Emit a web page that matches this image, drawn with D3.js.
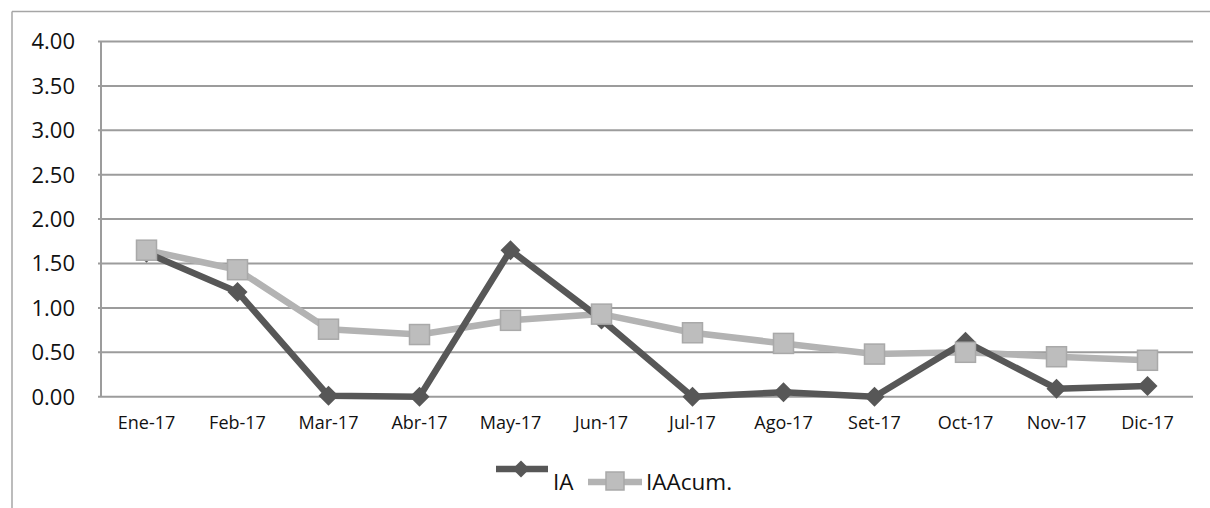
<!DOCTYPE html>
<html>
<head>
<meta charset="utf-8">
<script src="https://cdn.jsdelivr.net/npm/d3@7"></script>
<style>
  html, body { margin: 0; padding: 0; background: #fff; }
  svg { display: block; font-family: "Open Sans", sans-serif; }
</style>
</head>
<body>
<svg id="chart" width="1210" height="508"></svg>
<script>
const categories = ["Ene-17","Feb-17","Mar-17","Abr-17","May-17","Jun-17","Jul-17","Ago-17","Set-17","Oct-17","Nov-17","Dic-17"];
const iaValues = [1.62, 1.18, 0.01, 0.00, 1.65, 0.87, 0.00, 0.05, 0.00, 0.62, 0.09, 0.12];
const iaAcumValues = [1.65, 1.43, 0.76, 0.70, 0.86, 0.93, 0.72, 0.60, 0.48, 0.50, 0.45, 0.41];
const yTicks = [0, 0.5, 1, 1.5, 2, 2.5, 3, 3.5, 4];
const seriesNames = ["IA", "IAAcum."];

const svg = d3.select("#chart");
const plot = { left: 101, right: 1193, top: 41.5, bottom: 396.7 };

// outer frame (left and top edges visible)
svg.append("line").attr("x1", 12).attr("y1", 11.5).attr("x2", 1210).attr("y2", 11.5)
  .attr("stroke", "#a6a6a6").attr("stroke-width", 1.5);
svg.append("line").attr("x1", 12).attr("y1", 11.5).attr("x2", 12).attr("y2", 508)
  .attr("stroke", "#a6a6a6").attr("stroke-width", 1.5);

const x = d3.scaleBand().domain(categories).range([plot.left, plot.right]);
const y = d3.scaleLinear().domain([0, 4]).range([plot.bottom, plot.top]);

// gridlines
svg.append("g").selectAll("line").data(yTicks).join("line")
  .attr("x1", plot.left - 3).attr("x2", plot.right)
  .attr("y1", d => y(d)).attr("y2", d => y(d))
  .attr("stroke", "#9c9c9c").attr("stroke-width", 2);

// y axis line
svg.append("line").attr("x1", plot.left).attr("x2", plot.left)
  .attr("y1", plot.top).attr("y2", plot.bottom)
  .attr("stroke", "#9c9c9c").attr("stroke-width", 2);

// y labels
svg.append("g").selectAll("text").data(yTicks).join("text")
  .attr("x", 75).attr("y", d => y(d)).attr("dy", "0.36em")
  .attr("text-anchor", "end").attr("font-size", 22).attr("fill", "#111")
  .text(d => d.toFixed(2));

// x labels
svg.append("g").selectAll("text").data(categories).join("text")
  .attr("x", d => x(d) + x.bandwidth() / 2).attr("y", 429)
  .attr("text-anchor", "middle").attr("font-size", 18).attr("fill", "#111")
  .text(d => d);

const cx = (d, i) => x(categories[i]) + x.bandwidth() / 2;
const line = d3.line().x((d, i) => cx(d, i)).y(d => y(d));

const acumColor = "#b3b3b3", acumFill = "#bdbdbd", acumStroke = "#a9a9a9";
const iaColor = "#575757";

// IAAcum line (drawn first)
svg.append("path").datum(iaAcumValues).attr("d", line)
  .attr("fill", "none").attr("stroke", acumColor).attr("stroke-width", 6.5)
  .attr("stroke-linejoin", "round");

// IA line
svg.append("path").datum(iaValues).attr("d", line)
  .attr("fill", "none").attr("stroke", iaColor).attr("stroke-width", 6.5)
  .attr("stroke-linejoin", "round");

const diamond = (cxv, cyv, r) => `M${cxv},${cyv - r}L${cxv + r},${cyv}L${cxv},${cyv + r}L${cxv - r},${cyv}Z`;

// IA markers
svg.append("g").selectAll("path").data(iaValues).join("path")
  .attr("d", (d, i) => diamond(cx(d, i), y(d), 10))
  .attr("fill", iaColor);

// IAAcum markers
svg.append("g").selectAll("rect").data(iaAcumValues).join("rect")
  .attr("x", (d, i) => cx(d, i) - 10).attr("y", d => y(d) - 10)
  .attr("width", 20).attr("height", 20)
  .attr("fill", acumFill).attr("stroke", acumStroke).attr("stroke-width", 1.5);

// legend
const lg = svg.append("g");
lg.append("line").attr("x1", 496).attr("x2", 548).attr("y1", 469).attr("y2", 469)
  .attr("stroke", iaColor).attr("stroke-width", 6.5);
lg.append("path").attr("d", diamond(521, 469, 8.5)).attr("fill", iaColor);
lg.append("text").attr("x", 553).attr("y", 490).attr("font-size", 22.5).attr("fill", "#111").text(seriesNames[0]);

lg.append("line").attr("x1", 588).attr("x2", 642).attr("y1", 482).attr("y2", 482)
  .attr("stroke", acumColor).attr("stroke-width", 6.5);
lg.append("rect").attr("x", 606).attr("y", 472).attr("width", 18).attr("height", 18)
  .attr("fill", acumFill).attr("stroke", acumStroke).attr("stroke-width", 1.5);
lg.append("text").attr("x", 646).attr("y", 490).attr("font-size", 22.5).attr("fill", "#111").text(seriesNames[1]);
</script>
</body>
</html>
